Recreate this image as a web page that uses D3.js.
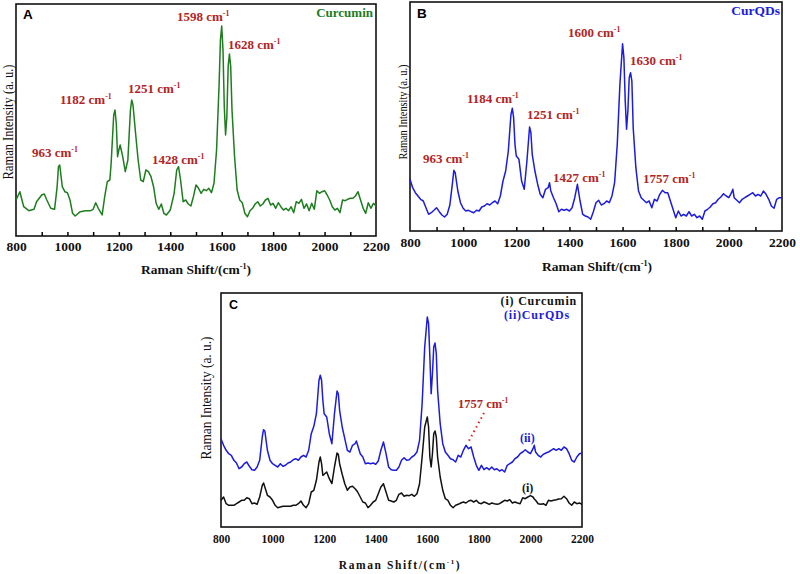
<!DOCTYPE html>
<html><head><meta charset="utf-8">
<script src="https://cdn.jsdelivr.net/npm/d3@7/dist/d3.min.js"></script>
<style>body{margin:0;background:#fff}</style>
</head><body>
<svg id="chart" width="800" height="574"></svg>
<script>
// ---------- DATA ----------
const shiftA = [800,815,830,850,870,880,900,910,920,935,950,960,965,970,980,990,1000,1010,1020,1030,1050,1070,1090,1100,1110,1120,1135,1145,1155,1165,1170,1180,1185,1190,1195,1200,1205,1215,1225,1235,1245,1250,1255,1265,1275,1285,1295,1305,1315,1325,1335,1345,1355,1365,1375,1385,1400,1415,1425,1432,1440,1450,1460,1470,1480,1490,1500,1510,1520,1530,1540,1550,1560,1570,1580,1590,1595,1600,1605,1610,1615,1620,1625,1630,1635,1640,
1650,1660,1670,1680,1690,1700,1710,1720,1730,1740,1750,1760,1770,1780,1790,1800,1810,1820,1830,1840,1850,1860,1870,1880,1890,1900,1910,1920,1930,1940,1950,1960,1970,1980,1990,2000,2010,2020,2030,2040,2050,2060,2070,2080,2090,2100,2110,2120,2130,2140,2150,2160,2170,2180,2190,2200];
const curcuminA = [36,44.3,29.3,25.3,26.7,34.3,41,42,36,27.7,26.7,49.3,69.3,71,49.3,44.3,43.3,36,22.7,20,24.3,25.3,25.3,26.7,33.3,27.7,21,39.3,54.3,56,72.7,121,126,112.7,79.3,86,91,79.3,64.3,76,126,136,131,102.7,76,56,54.3,66,64.3,59.3,49.3,32.7,26.7,32,22.7,21,26,42.7,66,69.3,56,34.3,36,32,30,39.3,51,47.7,42.7,46.7,45.3,47.7,43.3,52.7,86,152.7,196,210,186,129.3,101,119.3,169.3,182,169.3,126,
79.3,46,36,33.3,22.7,19.3,25.3,27.7,32,34.3,30,32,36,37.7,31,32.7,27.7,33.3,29.3,26,27.7,25.3,29.3,23.3,34.3,32.7,36.7,27.7,32,25.3,32.7,26.7,45.3,42.7,44.3,45.3,41,36,29.3,26,27.7,23.3,36,35.3,36.7,37.7,37.7,40,44.3,36,27.7,22.7,33.3,27.7,32.7,30];

const shiftBC = [800,810,820,830,840,850,860,870,880,890,900,910,920,930,940,950,960,965,970,
980,990,1000,1010,1020,1030,1040,1050,1060,1070,1080,1090,1100,1110,1120,1130,1140,1150,1160,1170,1180,
1185,1190,1195,1200,1210,1220,1230,1240,1250,1255,1260,1270,1280,1290,1300,1310,1320,1325,
1330,1340,1350,1360,1370,1380,1390,1400,1410,1420,1430,1440,1450,1460,1470,1480,1490,1500,1510,1520,1530,1540,1550,1560,1570,1580,1590,1600,
1605,1610,1615,1620,1625,1630,1635,
1640,1650,1660,1670,1680,1690,1700,1710,1720,1730,1740,1750,1760,1770,1780,1790,1800,1810,1820,1830,1840,1850,1860,1870,1880,1890,1900,1910,1920,1930,1940,1950,1960,1970,1980,1990,2000,2010,
2015,2020,2030,2040,2050,2060,2070,2080,2090,2100,2110,2120,2130,2140,2150,2160,2170,2180,2190,2200];

const curqdsB = [51.7,43.3,38.3,35,31.7,30,23.3,16.7,18.3,20.7,23.3,19.3,16,14,16.7,26,48.3,60.7,58.3,
40,28.3,22.7,20,20.7,19.3,18.3,20.7,20,24,25,27.3,26,28.3,30,27.3,35,50,60,80,116.7,
122.7,113.3,86.7,75,71.7,50,41.7,70,104,98.3,76.7,60,47.3,36.7,33.3,41.7,43.3,48.3,
40,33.3,27.3,19.3,21.7,20.7,21.7,20,23.3,33.3,46.7,30,16.7,15,14,11.7,19.3,28.3,30.7,26,27.3,30,28.3,35,48.3,86.7,146.7,187.3,
173.3,130,101.7,120,153.3,158.3,150,
103.3,63.3,40,33.3,30.7,28.3,30,23.3,31.7,30,36.7,40.7,38.3,38.3,30,21.7,13.3,20,15,16.7,15,19.3,15,16.7,13.3,15,11.7,20,21.7,24,27.3,28.3,31.7,34,37.3,35,33.3,38.3,
41.7,33.3,30.7,28.3,31.7,33.3,35,36.7,38.3,35,36.7,35,40,36.7,31.7,25,22.7,31.7,33.3,33.3];

const curqdsC = [88.3,81.7,76.7,73.3,71.7,66.7,64,58.3,60,63.3,65,60.7,57.3,56.7,60,66.7,90,97.3,96,
76.7,66.7,63.3,61.7,60,63.3,60.7,61.7,64,65,67.3,68.3,66.7,70,71.7,70,76.7,93.3,100.7,113.3,146.7,
151.7,146.7,126.7,113.3,110,93.3,83.3,113.3,136,133.3,116.7,100,88.3,76.7,75,81.7,83.3,86,
81.7,73.3,70,63.3,64,63.3,64,62.7,66,76.7,85,73.3,60,57.3,56.7,56.7,60,66.7,69.3,66.7,67.3,70,71.7,75,86.7,123.3,180,210,
203.3,170,133.3,153.3,180,184,173.3,
136.7,103.3,83.3,75,71.7,68.3,67.3,65,71.7,70,76.7,81.7,78.3,80,70,61.7,56.7,61.7,57.3,59.3,57.3,60,57.3,58.3,56,57.3,55,61.7,63.3,65,68.3,70,73.3,75,77.3,75,73.3,78.3,
81.7,75,71.7,70,72.7,74,75,76.7,78.3,76.7,78.3,76.7,80,78.3,73.3,66.7,65,70,73.3,74];

const curcuminC = [26.7,30,23.3,21.7,21.7,21.7,23.3,25,26.7,26.7,29.3,28.3,23.3,24,22.7,30,41.7,44,40,
31.7,30,26.7,21.7,19.3,20,20.7,20.7,20.7,20.7,21.7,21.7,23.3,26,21.7,19.3,23.3,35,36.7,46.7,65,
70,63.3,51.7,52.7,55,48.3,43.3,60,74,72.7,63.3,52.7,43.3,36.7,40,40.7,38.3,36.7,
35,30,25,24,19.3,21.7,25,26.7,33.3,40,43.3,35,26.7,26,25,26.7,32.7,34,30.7,31.7,31.3,32.7,30.7,33.3,43.3,70,100,110,
100,70,60,73.3,93.3,96,90,
70,50,36.7,28.3,26.7,21.7,19.3,21.7,22.7,24,25,24,26,26.7,25,26.7,24,23.3,25,24,22.7,24,23.3,22.7,23.3,25,26.7,26,27.3,24,25,24,23.3,29.3,28.3,30,31.3,30,
28,26.7,23.3,22.7,23.3,21.7,26.7,26,26.7,27.3,28,28.3,30.7,28.3,24,21.7,25,23.3,24,22.7];

const xTickLabels = [800,1000,1200,1400,1600,1800,2000,2200];
const xTickMinor = [900,1000,1100,1200,1300,1400,1500,1600,1700,1800,1900,2000,2100];
const peaksA = ["963","1182","1251","1428","1598","1628"];
const peaksB = ["963","1184","1251","1427","1600","1630","1757"];
const peakC = "1757";

// ---------- LAYOUT ----------
const svg = d3.select("#chart");
const SERIF = "'Liberation Serif','Times New Roman',serif";
const SANS = "'Liberation Sans',Arial,sans-serif";
const RED = "#b32424", GREEN = "#1e7d1e", BLUE = "#1c1cde";

const panels = {
  A: {left:16, right:376, top:4, bottom:236, ymax:232, tickFs:13.5, labelY:252, ticks:true},
  B: {left:410, right:782, top:2, bottom:231, ymax:229, tickFs:13.5, labelY:248, ticks:true},
  C: {left:221, right:582, top:293, bottom:527, ymax:234, tickFs:11.5, labelY:543, ticks:false}
};

function supLabel(sel, prefix, suffix) {
  sel.append("tspan").text(prefix);
  sel.append("tspan").attr("dy", -5).attr("font-size", "0.6em").text("-1");
  if (suffix) sel.append("tspan").attr("dy", 5).text(suffix);
}

function setup(p) {
  const x = d3.scaleLinear().domain([800, 2200]).range([p.left, p.right]);
  const y = d3.scaleLinear().domain([0, p.ymax]).range([p.bottom, p.top]);
  const g = svg.append("g");
  const ax = g.append("g").attr("transform", `translate(0,${p.bottom})`)
    .call(d3.axisBottom(x).tickValues(xTickLabels).tickSize(0).tickPadding(p.labelY - p.bottom - p.tickFs*0.75).tickFormat(d3.format("d")));
  ax.select(".domain").remove();
  ax.selectAll("text").attr("font-family", SERIF).attr("font-weight", "bold")
    .attr("font-size", p.tickFs).attr("fill", "#111");
  if (p.ticks) {
    const tk = g.append("g").attr("transform", `translate(0,${p.bottom})`)
      .call(d3.axisBottom(x).tickValues(xTickMinor).tickSize(-4).tickFormat(""));
    tk.select(".domain").remove();
    tk.selectAll("line").attr("stroke", "#000").attr("stroke-width", 1.5);
  }
  g.append("rect").attr("x", p.left).attr("y", p.top)
    .attr("width", p.right - p.left).attr("height", p.bottom - p.top)
    .attr("fill", "none").attr("stroke", "#111").attr("stroke-width", 1.6);
  return {x, y, g};
}

function drawLine(ctx, xs, ys, color) {
  const pts = xs.map((d, i) => [d, ys[i]]);
  ctx.g.append("path").datum(pts)
    .attr("fill", "none").attr("stroke", color).attr("stroke-width", 1.5)
    .attr("stroke-linejoin", "round")
    .attr("d", d3.line().x(d => ctx.x(d[0])).y(d => ctx.y(d[1])));
}

function text(x, y, fill, size, opts = {}) {
  return svg.append("text").attr("x", x).attr("y", y).attr("fill", fill)
    .attr("font-size", size).attr("font-family", opts.family || SERIF)
    .attr("font-weight", opts.weight || "bold")
    .attr("text-anchor", opts.anchor || "start")
    .attr("letter-spacing", opts.ls || 0);
}

function yTitle(cx, cy, len, size) {
  svg.append("text").attr("transform", `translate(${cx},${cy}) rotate(-90)`)
    .attr("text-anchor", "middle").attr("font-family", SERIF).attr("font-size", size)
    .attr("fill", "#111").attr("textLength", len).attr("lengthAdjust", "spacingAndGlyphs")
    .text("Raman Intensity (a. u.)");
}

// ---------- PANEL A ----------
const cA = setup(panels.A);
drawLine(cA, shiftA, curcuminA, GREEN);
text(23, 19, "#000", 13.5, {family: SANS}).text("A");
text(373, 17, GREEN, 13, {anchor: "end"}).text("Curcumin");
const posA = [[32,157],[60,104],[128,93],[152,164],[177,21],[228,49]];
peaksA.forEach((p, i) => supLabel(text(posA[i][0], posA[i][1], RED, 13), p + " cm"));
supLabel(text(196, 274, "#111", 13.5, {anchor: "middle"}), "Raman Shift/(cm", ")");
yTitle(13, 122, 115, 15.5);

// ---------- PANEL B ----------
const cB = setup(panels.B);
drawLine(cB, shiftBC, curqdsB, BLUE);
text(417, 18, "#000", 13.5, {family: SANS}).text("B");
text(780, 15, BLUE, 13.5, {anchor: "end"}).text("CurQDs");
const posB = [[423,163],[467,103],[527,119],[553,182],[568,37],[630,65],[643,183]];
peaksB.forEach((p, i) => supLabel(text(posB[i][0], posB[i][1], RED, 13), p + " cm"));
supLabel(text(597, 271, "#111", 13.5, {anchor: "middle"}), "Raman Shift/(cm", ")");
yTitle(407, 112, 95, 13.5);

// ---------- PANEL C ----------
const cC = setup(panels.C);
drawLine(cC, shiftBC, curqdsC, BLUE);
drawLine(cC, shiftBC, curcuminC, "#111");
text(229, 309, "#000", 12.5, {family: SANS}).text("C");
text(577, 305, "#111", 12, {anchor: "end", ls: 0.8}).text("(i) Curcumin");
text(504, 319, BLUE, 12, {ls: 0.8}).text("(ii)CurQDs");
supLabel(text(458, 408, RED, 12.5), peakC + " cm");
cC.g.append("line")
  .attr("x1", cC.x(1820)).attr("y1", cC.y(114)).attr("x2", cC.x(1757)).attr("y2", cC.y(84))
  .attr("stroke", "#e02020").attr("stroke-width", 2).attr("stroke-dasharray", "1.5,3.5");
text(520, 442, BLUE, 12).text("(ii)");
text(522, 492, "#111", 12).text("(i)");
supLabel(text(400, 569, "#111", 11.5, {anchor: "middle", ls: 1.6}), "Raman Shift/(cm", ")");
yTitle(211, 398, 123, 15.5);
</script>
</body></html>
